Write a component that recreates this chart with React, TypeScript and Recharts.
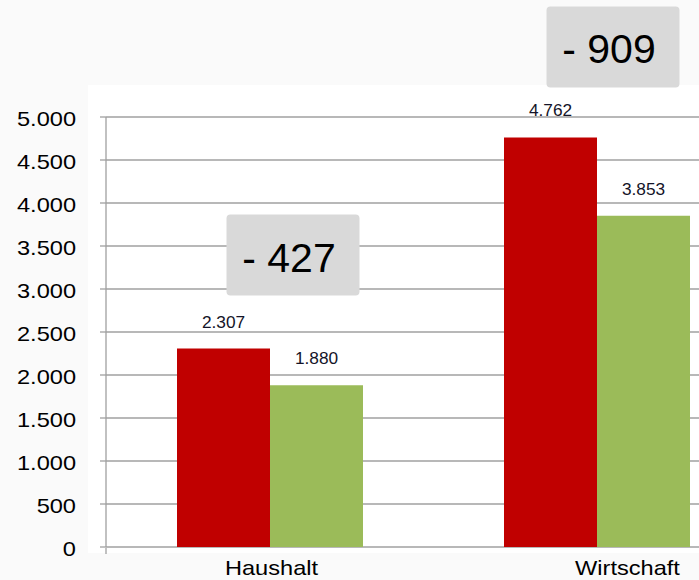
import React from 'react';
import { BarChart, Bar, XAxis, YAxis, CartesianGrid, LabelList } from 'recharts';

const categories = ['Haushalt', 'Wirtschaft'];
const valuesBefore = [2307, 4762];
const valuesAfter = [1880, 3853];
const yTicks = [0, 500, 1000, 1500, 2000, 2500, 3000, 3500, 4000, 4500, 5000];
const boundaryTicks = [0, 1, 2];

const data = categories.map((name, i) => ({
  name,
  before: valuesBefore[i],
  after: valuesAfter[i],
  diff: valuesAfter[i] - valuesBefore[i],
}));

// style constants
const RED = '#c00000';
const GREEN = '#9bbb59';
const GRID = '#a0a0a0';
const FONT = '"Liberation Sans", Arial, sans-serif';
const catLabelShift = [2, 31];
const boxShift = [
  { dx: 23, dy: -53 },
  { dx: 16, dy: -50 },
];

const fmt = (v: number) => {
  const s = String(Math.abs(Math.round(v))).replace(/\B(?=(\d{3})+(?!\d))/g, '.');
  return v < 0 ? '-' + s : s;
};

const YTick = (props: any) => {
  const { x, y, payload } = props;
  return (
    <g transform={`translate(${x},${y}) scale(1.18,1)`}>
      <text x={0} y={0} dy={9} textAnchor="end" fontSize={20} fontFamily={FONT} fill="#000">
        {fmt(payload.value)}
      </text>
    </g>
  );
};

const XTick = (props: any) => {
  const { x, y, payload, index } = props;
  const shift = catLabelShift[index] ?? 0;
  return (
    <g transform={`translate(${x + shift},${y}) scale(1.18,1)`}>
      <text x={0} y={0} dy={20} textAnchor="middle" fontSize={20} fontFamily={FONT} fill="#000">
        {payload.value}
      </text>
    </g>
  );
};

const EmptyTick = () => <g />;

const ValueLabel = (props: any) => {
  const { x, y, width, value } = props;
  const cx = Number(x) + Number(width) / 2;
  return (
    <g transform={`translate(${cx},${Number(y) - 21}) scale(1.08,1)`}>
      <text x={0} y={0} textAnchor="middle" fontSize={16} fontFamily={FONT} fill="#141428">
        {fmt(Number(value))}
      </text>
    </g>
  );
};

const DiffBox = (props: any) => {
  const { x, y, width, index } = props;
  const d = data[index];
  if (!d) return null;
  const s = boxShift[index] ?? { dx: 20, dy: -52 };
  const bw = 133;
  const bh = 81;
  const cx = Number(x) + Number(width) + s.dx;
  const bottom = Number(y) + s.dy;
  const top = bottom - bh;
  return (
    <g>
      <rect x={cx - bw / 2} y={top} width={bw} height={bh} rx={4} ry={4} fill="#d9d9d9" />
      <text x={cx - 4} y={top + 57} textAnchor="middle" fontSize={41} fontFamily={FONT} fill="#000">
        {'- ' + fmt(Math.abs(d.diff))}
      </text>
    </g>
  );
};

export default function App() {
  return (
    <div
      style={{
        position: 'fixed',
        left: 0,
        top: 0,
        width: 699,
        height: 580,
        overflow: 'hidden',
        background: '#fafafa',
      }}
    >
      <div style={{ position: 'absolute', left: 88, top: 85, width: 611, height: 468, background: '#ffffff' }} />
      <div style={{ position: 'absolute', left: 0, top: 0 }}>
        <BarChart
          width={770}
          height={580}
          data={data}
          margin={{ top: 117, right: 10, bottom: 0, left: 0 }}
          barSize={93}
          barGap={0}
        >
          <CartesianGrid vertical={false} stroke={GRID} strokeWidth={1.3} xAxisId="cat" />
          <XAxis
            xAxisId="grid"
            type="number"
            domain={[0, categories.length]}
            ticks={boundaryTicks}
            allowDataOverflow
            height={32}
            axisLine={false}
            tickLine={{ stroke: GRID, strokeWidth: 1.3 }}
            tickSize={6}
            tick={EmptyTick}
            interval={0}
          />
          <XAxis
            xAxisId="cat"
            dataKey="name"
            height={1}
            axisLine={false}
            tickLine={false}
            tick={XTick}
            interval={0}
          />
          <YAxis
            width={106}
            domain={[0, 5000]}
            ticks={yTicks}
            interval={0}
            tickSize={6}
            tickMargin={24}
            axisLine={{ stroke: GRID, strokeWidth: 1.3 }}
            tickLine={{ stroke: GRID, strokeWidth: 1.3 }}
            tick={YTick}
          />
          <Bar dataKey="before" xAxisId="cat" fill={RED} isAnimationActive={false}>
            <LabelList dataKey="before" content={ValueLabel} />
            <LabelList dataKey="diff" content={DiffBox} />
          </Bar>
          <Bar dataKey="after" xAxisId="cat" fill={GREEN} isAnimationActive={false}>
            <LabelList dataKey="after" content={ValueLabel} />
          </Bar>
        </BarChart>
      </div>
    </div>
  );
}
